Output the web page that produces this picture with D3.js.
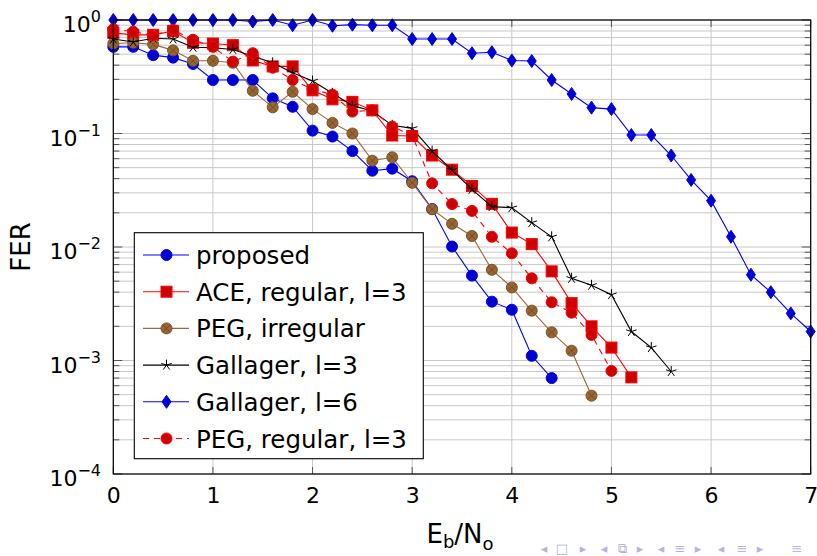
<!DOCTYPE html>
<html>
<head>
<meta charset="utf-8">
<script src="https://cdn.jsdelivr.net/npm/d3@7"></script>
<style>
  body { margin: 0; background: #fff; }
  text { font-family: "DejaVu Sans", sans-serif; }
</style>
</head>
<body>
<svg width="817" height="556"></svg>
<script>
// Eb/No steps (0.2 dB)
let ebno = d3.range(0, 36).map(i => +(i * 0.2).toFixed(1));

let proposed = [0.58, 0.58, 0.49, 0.466, 0.41, 0.296, 0.296, 0.296, 0.204, 0.172, 0.106, 0.094,
  0.070, 0.047, 0.049, 0.038, 0.0216, 0.0101, 0.0056, 0.0033, 0.0028, 0.0011, 0.0007];
let aceRegular = [0.77, 0.74, 0.74, 0.80, 0.63, 0.62, 0.60, 0.44, 0.39, 0.39, 0.24, 0.20, 0.19,
  0.16, 0.096, 0.095, 0.064, 0.048, 0.0345, 0.024, 0.0134, 0.0106, 0.0061, 0.0032, 0.0020,
  0.0013, 0.00071];
let pegIrregular = [0.62, 0.63, 0.61, 0.54, 0.437, 0.437, 0.42, 0.238, 0.17, 0.233, 0.164,
  0.124, 0.10, 0.0576, 0.0617, 0.0368, 0.0215, 0.016, 0.0125, 0.0063, 0.0044, 0.00275,
  0.00177, 0.00122, 0.00049];
let gallager3 = [0.68, 0.64, 0.69, 0.68, 0.575, 0.57, 0.55, 0.48, 0.42, 0.343, 0.29, 0.226,
  0.176, 0.158, 0.118, 0.111, 0.070, 0.0477, 0.0322, 0.0227, 0.0222, 0.0164, 0.0123, 0.0053,
  0.0046, 0.0038, 0.0018, 0.0013, 0.0008];
let gallager6 = [1.0, 1.0, 1.0, 1.0, 1.0, 1.0, 1.0, 0.97, 1.0, 0.90, 1.0, 0.89, 0.91, 0.90,
  0.90, 0.68, 0.68, 0.68, 0.51, 0.52, 0.44, 0.435, 0.296, 0.223, 0.169, 0.164, 0.097, 0.097,
  0.064, 0.039, 0.0256, 0.0123, 0.0057, 0.0040, 0.0026, 0.0018];
let pegRegular = [0.83, 0.79, 0.73, 0.82, 0.67, 0.58, 0.43, 0.51, 0.38, 0.296, 0.245, 0.22,
  0.156, 0.16, 0.115, 0.096, 0.0364, 0.0239, 0.0208, 0.0123, 0.0088, 0.0053, 0.00326,
  0.00264, 0.00168, 0.00081];

let xTicks = [0, 1, 2, 3, 4, 5, 6, 7];
let yExps = [0, -1, -2, -3, -4];

let series = [
  { name: "proposed", values: proposed, color: "#0000ff", fill: "#0000cc", mark: "circle" },
  { name: "ACE, regular, l=3", values: aceRegular, color: "#ff0000", fill: "#cc0000", mark: "square" },
  { name: "PEG, irregular", values: pegIrregular, color: "#9a6a3a", fill: "#996633", mark: "otimes" },
  { name: "Gallager, l=3", values: gallager3, color: "#000000", fill: "#000000", mark: "star" },
  { name: "Gallager, l=6", values: gallager6, color: "#0000ff", fill: "#0000cc", mark: "diamond" },
  { name: "PEG, regular, l=3", values: pegRegular, color: "#ff0000", fill: "#cc0000", mark: "circle", dash: "6,5" }
];

let pLeft = 113.3, pRight = 810.7, pTop = 20, pBottom = 474;

let svg = d3.select("svg");

let x = d3.scaleLinear().domain([0, 7]).range([pLeft, pRight]);
let y = d3.scaleLog().domain([1e-4, 1]).range([pBottom, pTop]);

// grid
let minors = [];
yExps.slice(0, 4).forEach(e => {
  for (let k = 1; k < 10; k++) minors.push(k * Math.pow(10, e - 1));
});
minors.push(1);

let grid = svg.append("g").attr("stroke", "#c8c8c8").attr("stroke-width", 1);
grid.selectAll(".hy").data(minors).enter().append("line")
  .attr("x1", pLeft).attr("x2", pRight)
  .attr("y1", d => y(d)).attr("y2", d => y(d));
grid.selectAll(".vx").data(xTicks).enter().append("line")
  .attr("y1", pTop).attr("y2", pBottom)
  .attr("x1", d => x(d)).attr("x2", d => x(d));

// ticks inside frame
let ticks = svg.append("g").attr("stroke", "#555").attr("stroke-width", 1);
minors.forEach(v => {
  let major = Math.abs(Math.log10(v) - Math.round(Math.log10(v))) < 1e-9;
  let len = major ? 9 : 6;
  ticks.append("line").attr("x1", pLeft).attr("x2", pLeft + len).attr("y1", y(v)).attr("y2", y(v));
  ticks.append("line").attr("x1", pRight - len).attr("x2", pRight).attr("y1", y(v)).attr("y2", y(v));
});
xTicks.forEach(v => {
  ticks.append("line").attr("x1", x(v)).attr("x2", x(v)).attr("y1", pBottom).attr("y2", pBottom - 7);
  ticks.append("line").attr("x1", x(v)).attr("x2", x(v)).attr("y1", pTop).attr("y2", pTop + 7);
});

// x tick labels
svg.append("g")
  .attr("transform", "translate(0," + pBottom + ")")
  .call(d3.axisBottom(x).tickValues(xTicks).tickSize(0).tickPadding(0).tickFormat(d3.format("d")))
  .call(g => g.select(".domain").remove())
  .selectAll("text")
  .attr("dy", null).attr("y", 29)
  .attr("font-family", "DejaVu Sans").attr("font-size", 22).attr("fill", "#000");

// y tick labels 10^e
let yl = svg.append("g");
yExps.forEach(e => {
  let t = yl.append("text")
    .attr("x", 101).attr("y", y(Math.pow(10, e)) + 12)
    .attr("text-anchor", "end").attr("font-size", 22);
  t.append("tspan").text("10");
  t.append("tspan").attr("dy", -10).attr("font-size", 16).text(e === 0 ? "0" : "\u2212" + (-e));
});

// axis titles
svg.append("text")
  .attr("transform", "translate(30,247) rotate(-90)")
  .attr("text-anchor", "middle").attr("font-size", 26).text("FER");

let xt = svg.append("text").attr("x", 460).attr("y", 543).attr("text-anchor", "middle").attr("font-size", 26);
xt.append("tspan").text("E");
xt.append("tspan").attr("font-size", 18).attr("dy", 5).text("b");
xt.append("tspan").attr("dy", -5).text("/N");
xt.append("tspan").attr("font-size", 18).attr("dy", 7).text("o");

// markers
function drawMark(g, s, cx, cy) {
  if (s.mark === "circle") {
    g.append("circle").attr("cx", cx).attr("cy", cy).attr("r", 5.5)
      .attr("fill", s.fill).attr("stroke", s.color);
  } else if (s.mark === "square") {
    g.append("rect").attr("x", cx - 5.5).attr("y", cy - 5.5).attr("width", 11).attr("height", 11)
      .attr("fill", s.fill).attr("stroke", s.color);
  } else if (s.mark === "diamond") {
    g.append("path")
      .attr("d", `M${cx},${cy - 6.5}L${cx + 4.5},${cy}L${cx},${cy + 6.5}L${cx - 4.5},${cy}Z`)
      .attr("fill", s.fill).attr("stroke", s.color);
  } else if (s.mark === "otimes") {
    g.append("circle").attr("cx", cx).attr("cy", cy).attr("r", 5.5)
      .attr("fill", s.fill).attr("stroke", "#7a5228");
    let d = 3.9;
    g.append("path")
      .attr("d", `M${cx - d},${cy - d}L${cx + d},${cy + d}M${cx - d},${cy + d}L${cx + d},${cy - d}`)
      .attr("stroke", "#6b4420").attr("stroke-width", 0.8);
  } else if (s.mark === "star") {
    let p = "";
    for (let k = 0; k < 5; k++) {
      let a = (90 + 72 * k) * Math.PI / 180;
      p += `M${cx},${cy}L${cx + 5.5 * Math.cos(a)},${cy - 5.5 * Math.sin(a)}`;
    }
    g.append("path").attr("d", p).attr("stroke", "#000").attr("stroke-width", 1);
  }
}

let line = d3.line().x((d, i) => x(ebno[i])).y(d => y(d));

series.forEach(s => {
  let g = svg.append("g");
  g.append("path").datum(s.values)
    .attr("d", line)
    .attr("fill", "none").attr("stroke", s.color).attr("stroke-width", 1.1)
    .attr("stroke-dasharray", s.dash || null);
  s.values.forEach((v, i) => drawMark(g, s, x(ebno[i]), y(v)));
});

// frame
svg.append("rect").attr("x", pLeft).attr("y", pTop).attr("width", pRight - pLeft).attr("height", pBottom - pTop)
  .attr("fill", "none").attr("stroke", "#000").attr("stroke-width", 1.2);

// legend
let lg = svg.append("g");
lg.append("rect").attr("x", 134.3).attr("y", 232.7).attr("width", 289).attr("height", 226)
  .attr("fill", "#fff").attr("stroke", "#000").attr("stroke-width", 1.1);
series.forEach((s, i) => {
  let cy = 255 + i * 36.7;
  lg.append("line").attr("x1", 143).attr("x2", 189).attr("y1", cy).attr("y2", cy)
    .attr("stroke", s.color).attr("stroke-width", 1.1).attr("stroke-dasharray", s.dash || null);
  drawMark(lg, s, 166.5, cy);
  lg.append("text").attr("x", 196).attr("y", cy + 9).attr("font-size", 24.5).text(s.name);
});

// beamer navigation symbols
let nav = ["\u25C2", "\u25A1", "\u25B8", "\u25C2", "\u29C9", "\u25B8", "\u25C2", "\u2261", "\u25B8", "\u25C2", "\u2261", "\u25B8", "\u2261"];
let navX = [544, 562, 583, 604, 622, 640, 661, 680, 698, 721, 742, 760, 797];
svg.append("g").selectAll("text").data(nav).enter().append("text")
  .attr("x", (d, i) => navX[i]).attr("y", 553)
  .attr("text-anchor", "middle").attr("font-size", 13).attr("fill", "#b4b4dc")
  .text(d => d);
</script>
</body>
</html>
